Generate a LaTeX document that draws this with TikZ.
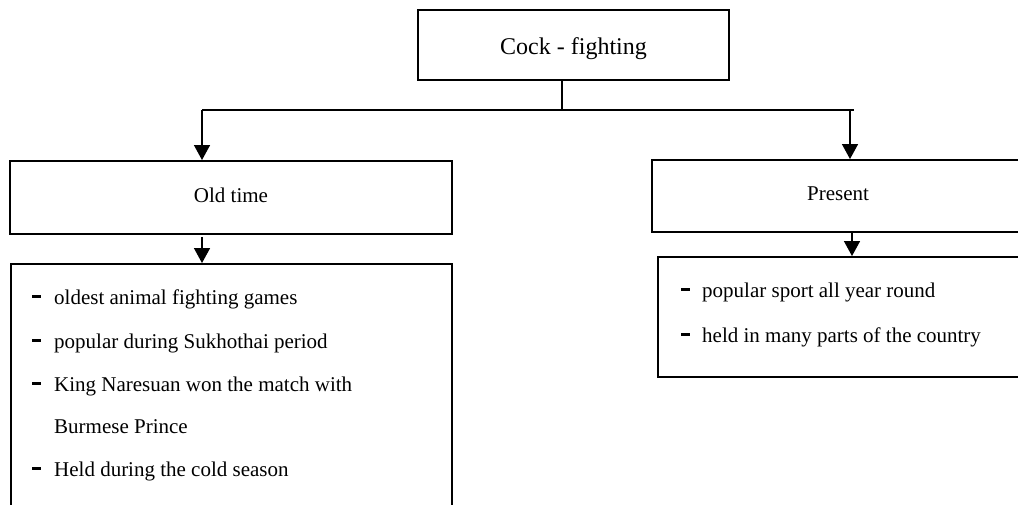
\documentclass[tikz,border=0pt]{standalone}
\usepackage{fontspec}
\setmainfont{Liberation Serif}
\usetikzlibrary{arrows.meta}
\tikzset{
  box/.style={draw=black, line width=1.9pt, rectangle, inner sep=0pt},
  conn/.style={draw=black, line width=1.4pt},
  arr/.style={conn, -{Triangle[width=16pt,length=15pt]}},
  lbl/.style={anchor=base, inner sep=0pt, font=\fontsize{21}{25}\selectfont},
  ttl/.style={anchor=base, inner sep=0pt, font=\fontsize{24}{28}\selectfont},
  item/.style={anchor=base west, inner sep=0pt, font=\fontsize{21}{25}\selectfont},
}
\newcommand{\dashA}{\makebox[22pt][l]{\rule[6.5pt]{9pt}{3pt}}}
\newcommand{\dashB}{\makebox[21pt][l]{\rule[6.5pt]{9pt}{3pt}}}
\begin{document}
\begin{tikzpicture}[x=1pt,y=-1pt]
\useasboundingbox (0,0) rectangle (1018,505);
\clip (0,0) rectangle (1018,505);
% boxes
\node[box, minimum width=311pt, minimum height=70pt] (top) at (573.5,45) {};
\node[ttl] (toptext) at (573.5,55) {Cock - fighting};
\node[box, minimum width=442pt, minimum height=73pt] (old) at (231,197.5) {};
\node[lbl] (oldtext) at (231,203) {Old time};
\node[box, minimum width=372pt, minimum height=72pt] (pres) at (838,196) {};
\node[lbl] (prestext) at (838,201) {Present};
\node[box, minimum width=441pt, minimum height=260pt] (oldlist) at (231.5,394) {};
\node[box, minimum width=372pt, minimum height=120pt] (preslist) at (844,317) {};
% list items
\node[item] (o1) at (32,305) {\dashA oldest animal fighting games};
\node[item] (o2) at (32,348) {\dashA popular during Sukhothai period};
\node[item] (o3) at (32,391) {\dashA King Naresuan won the match with};
\node[item] (o4) at (54,433) {Burmese Prince};
\node[item] (o5) at (32,476) {\dashA Held during the cold season};
\node[item] (p1) at (681,298) {\dashB popular sport all year round};
\node[item] (p2) at (681,342) {\dashB held in many parts of the country};
% connectors
\coordinate (j) at (562,110);
\coordinate (hl) at (202,110);
\coordinate (hr) at (854,110);
\coordinate (vr) at (850,110);
\draw[conn] (top.south -| j) -- (j);
\draw[conn] (hl) -- (hr);
\draw[arr] (hl) -- (old.north -| hl);
\draw[arr] (vr) -- (pres.north -| vr);
\coordinate (oa) at (202,237);
\draw[arr] (oa) -- (oldlist.north -| oa);
\coordinate (pc) at (852,0);
\draw[arr] (pres.south -| pc) -- (preslist.north -| pc);
\end{tikzpicture}
\end{document}
